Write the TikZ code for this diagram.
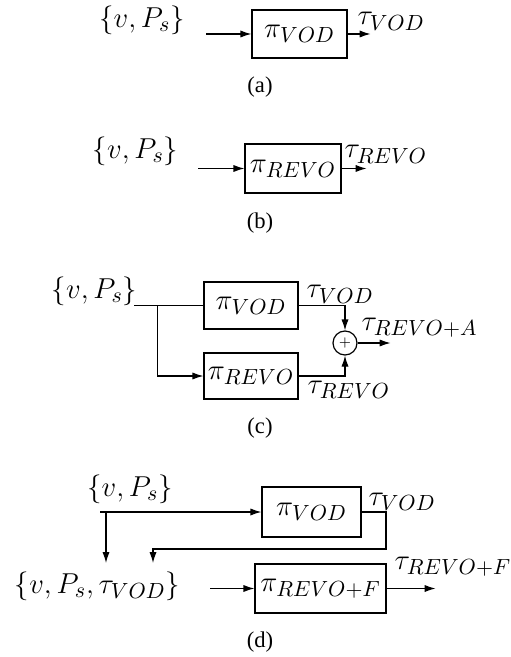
\documentclass[tikz,border=0pt]{standalone}
\usepackage[no-math]{fontspec}
\setmainfont{Liberation Serif}
\usepackage{amsmath}
\usepackage{tikz}
\usetikzlibrary{positioning, arrows.meta}

\begin{document}
\begin{tikzpicture}[x=0.5pt, y=-0.5pt, line width=0.6pt,
  >={Latex[length=5.5pt, width=3.6pt]},
  mth/.style={font=\fontsize{15}{18}\selectfont, inner sep=0pt},
  lbl/.style={mth, anchor=base west},
  blk/.style={draw, rectangle, mth},
  sumnode/.style={draw, circle, minimum size=12pt, inner sep=0pt, font=\fontsize{7}{8}\selectfont},
  captxt/.style={font=\fontsize{11.3}{13}\selectfont, inner sep=0pt}]

\useasboundingbox (0,0) rectangle (510,657);

% (a)
\node[mth] (vpsa) at (142,20) {$\{v, P_s\}$};
\node[blk, minimum width=47.5pt, minimum height=24pt] (pa) at (299.5,34) {$\pi_{VOD}$};
\coordinate[left = 22.5pt of pa] (ina);
\coordinate[right = 11.5pt of pa] (outa);
\draw[->] (ina) -- (pa.west);
\draw[->] (pa.east) -- (outa);
\node[lbl] (ta) at (357,25) {$\tau_{VOD}$};
\node[captxt] (capa) at (260,87) {(a)};

% (b)
\node[mth] (vpsb) at (135.5,151) {$\{v, P_s\}$};
\node[blk, minimum width=48pt, minimum height=24.5pt] (pb) at (293,168.5) {$\pi_{REVO}$};
\coordinate[left = 23pt of pb] (inb);
\coordinate[right = 12.5pt of pb] (outb);
\draw[->] (inb) -- (pb.west);
\draw[->] (pb.east) -- (outb);
\node[lbl] (tb) at (344,158) {$\tau_{REVO}$};
\node[captxt] (capb) at (260,223) {(b)};

% (c)
\node[mth] (vpsc) at (94.5,291) {$\{v, P_s\}$};
\node[blk, minimum width=47pt, minimum height=23.5pt] (pcv) at (251,305.5) {$\pi_{VOD}$};
\node[blk, minimum width=47pt, minimum height=23pt] (pcr) at (251,376) {$\pi_{REVO}$};
\node[sumnode] (sumc) at (345,343) {$+$};
\coordinate[left = 34.5pt of pcv] (inc);
\coordinate[left = 23pt of pcv] (brc);
\coordinate[right = 16.5pt of sumc] (outc);
\draw (inc) -- (pcv.west);
\draw[->] (brc) |- (pcr.west);
\draw[->] (pcv.east) -| (sumc.north);
\draw[->] (pcr.east) -| (sumc.south);
\draw[->] (sumc.east) -- (outc);
\node[lbl] (tcv) at (306,298) {$\tau_{VOD}$};
\node[lbl] (tca) at (361,330) {$\tau_{REVO+A}$};
\node[lbl] (tcr) at (307,393) {$\tau_{REVO}$};
\node[captxt] (capc) at (260,428) {(c)};

% (d)
\node[mth] (vpsd) at (130,489) {$\{v, P_s\}$};
\node[mth] (vpstd) at (97.5,586) {$\{v, P_s, \tau_{VOD}\}$};
\node[blk, minimum width=49.5pt, minimum height=25pt] (pdv) at (311.5,512) {$\pi_{VOD}$};
\node[blk, minimum width=65.5pt, minimum height=24.5pt] (pdr) at (320.5,588.5) {$\pi_{REVO+F}$};
\coordinate (ind) at (100,512);
\coordinate (dns) at (106,512);
\coordinate (dne) at (106,563);
\coordinate (fbc) at (386,549);
\coordinate (fbe) at (153,563);
\coordinate[left = 22pt of pdr] (indr);
\coordinate[right = 24.5pt of pdr] (outd);
\draw[->] (ind) -- (pdv.west);
\draw[->] (dns) -- (dne);
\draw[->] (pdv.east) -| (fbc) -| (fbe);
\draw[->] (indr) -- (pdr.west);
\draw[->] (pdr.east) -- (outd);
\node[lbl] (tdv) at (368,505) {$\tau_{VOD}$};
\node[lbl] (tdr) at (394,569) {$\tau_{REVO+F}$};
\node[captxt] (capd) at (260,642) {(d)};

\end{tikzpicture}
\end{document}
